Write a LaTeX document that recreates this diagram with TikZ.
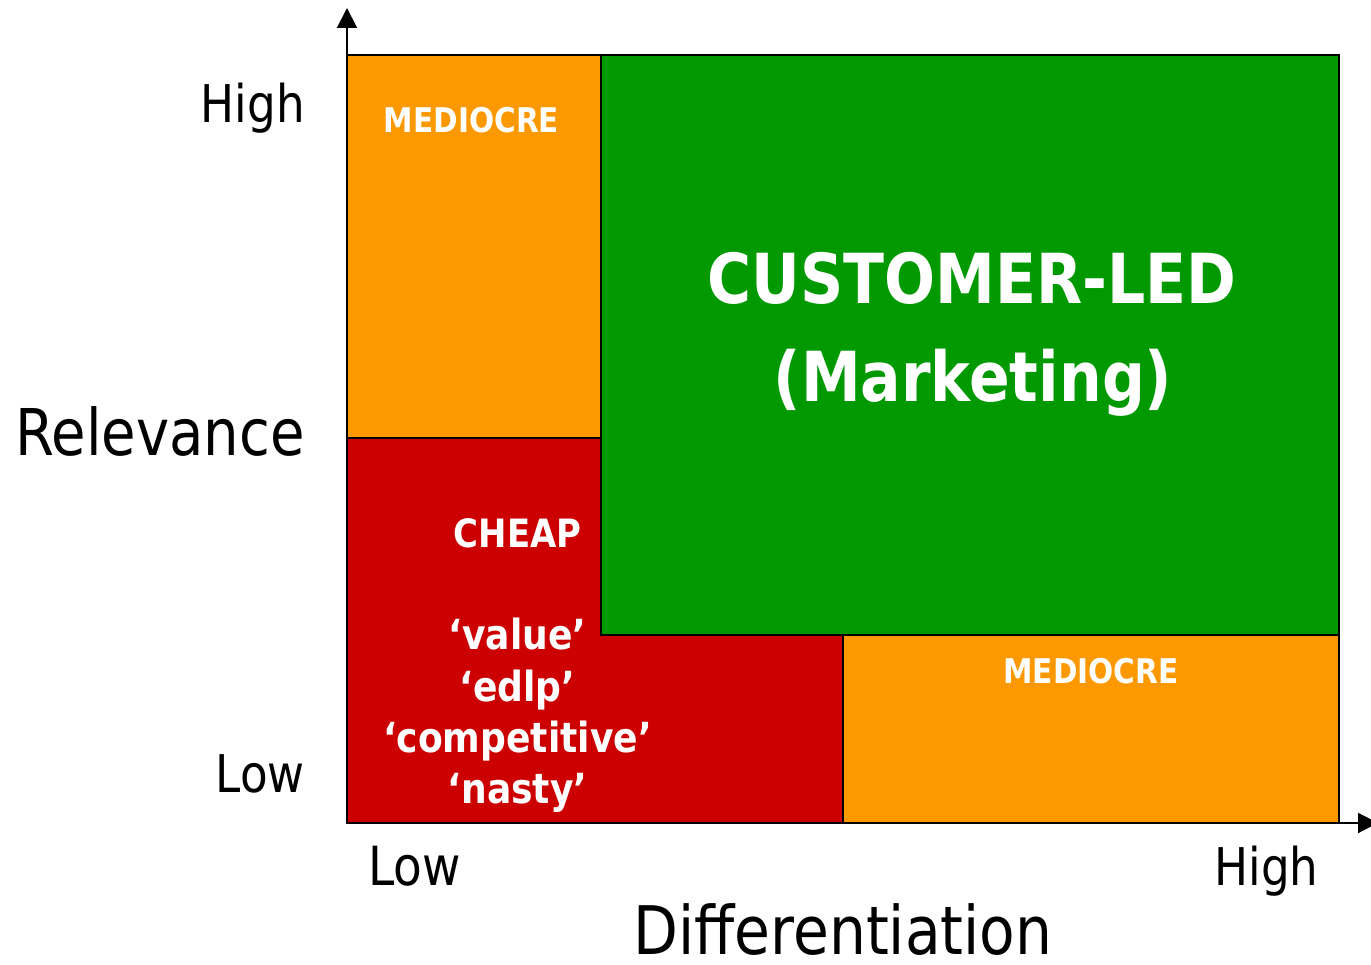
\documentclass[tikz,border=0pt]{standalone}
\usepackage{fontspec}
\setmainfont{DejaVu Sans}[FakeStretch=0.87]
\usetikzlibrary{arrows.meta}
\definecolor{midorange}{HTML}{FC9900}
\definecolor{leadgreen}{HTML}{009900}
\definecolor{cheapred}{HTML}{CC0000}
\newcommand{\fs}[1]{\fontsize{#1}{#1}\selectfont}
\tikzset{
  zone/.style={draw=black, line width=2pt},
  axis/.style={draw=black, line width=2pt, -{Triangle[width=20pt,length=20pt]}},
  boxtext/.style={text=white, font=\bfseries, inner sep=0pt, anchor=base},
  axislabel/.style={text=black, inner sep=0pt, anchor=base},
}
\begin{document}
\begin{tikzpicture}[x=1pt, y=-1pt]
  \useasboundingbox (0,0) rectangle (1371,965);
  \clip (0,0) rectangle (1371,965);

  % grid corners
  \coordinate (o)  at (347,823);
  \coordinate (ytop) at (347,8);
  \coordinate (xend) at (1378,823);

  % quadrants
  \path[zone, fill=midorange] (347,55) rectangle (601,438);
  \path[zone, fill=leadgreen] (601,55) rectangle (1339,635);
  \path[zone, fill=cheapred] (347,438) -- (601,438) -- (601,635) -- (843,635)
        -- (843,823) -- (347,823) -- cycle;
  \path[zone, fill=midorange] (843,635) rectangle (1339,823);

  % axes
  \draw[axis] (o) -- (ytop);
  \draw[axis] (o) -- (xend);

  % quadrant labels
  \node[boxtext, font=\bfseries\fs{34}] (medtop) at (471.5,133) {MEDIOCRE};
  \node[boxtext, font=\bfseries\fs{69}] (led) at (972,304) {CUSTOMER-LED};
  \node[boxtext, font=\bfseries\fs{69}] (mkt) at (973,402) {(Marketing)};
  \node[boxtext, font=\bfseries\fs{39}] (cheap) at (517.5,547) {CHEAP};
  \node[boxtext, font=\bfseries\fs{41.5}] (val) at (517.5,649) {‘value’};
  \node[boxtext, font=\bfseries\fs{41.5}] (edlp) at (517.5,701) {‘edlp’};
  \node[boxtext, font=\bfseries\fs{41.5}] (comp) at (517.5,752) {‘competitive’};
  \node[boxtext, font=\bfseries\fs{41.5}] (nasty) at (517.5,803) {‘nasty’};
  \node[boxtext, font=\bfseries\fs{34}] (medbot) at (1091,683) {MEDIOCRE};

  % axis labels
  \node[axislabel, anchor=base east, font=\fs{52}] (yhigh) at (305,123) {High};
  \node[axislabel, anchor=base east, font=\fs{64.5}] (yname) at (305,455) {Relevance};
  \node[axislabel, anchor=base east, font=\fs{52}] (ylow) at (305,792) {Low};
  \node[axislabel, anchor=base west, font=\fs{54}] (xlow) at (368,885) {Low};
  \node[axislabel, font=\fs{52}] (xhigh) at (1266.5,885) {High};
  \node[axislabel, font=\fs{67}] (xname) at (843,954) {Differentiation};
\end{tikzpicture}
\end{document}
